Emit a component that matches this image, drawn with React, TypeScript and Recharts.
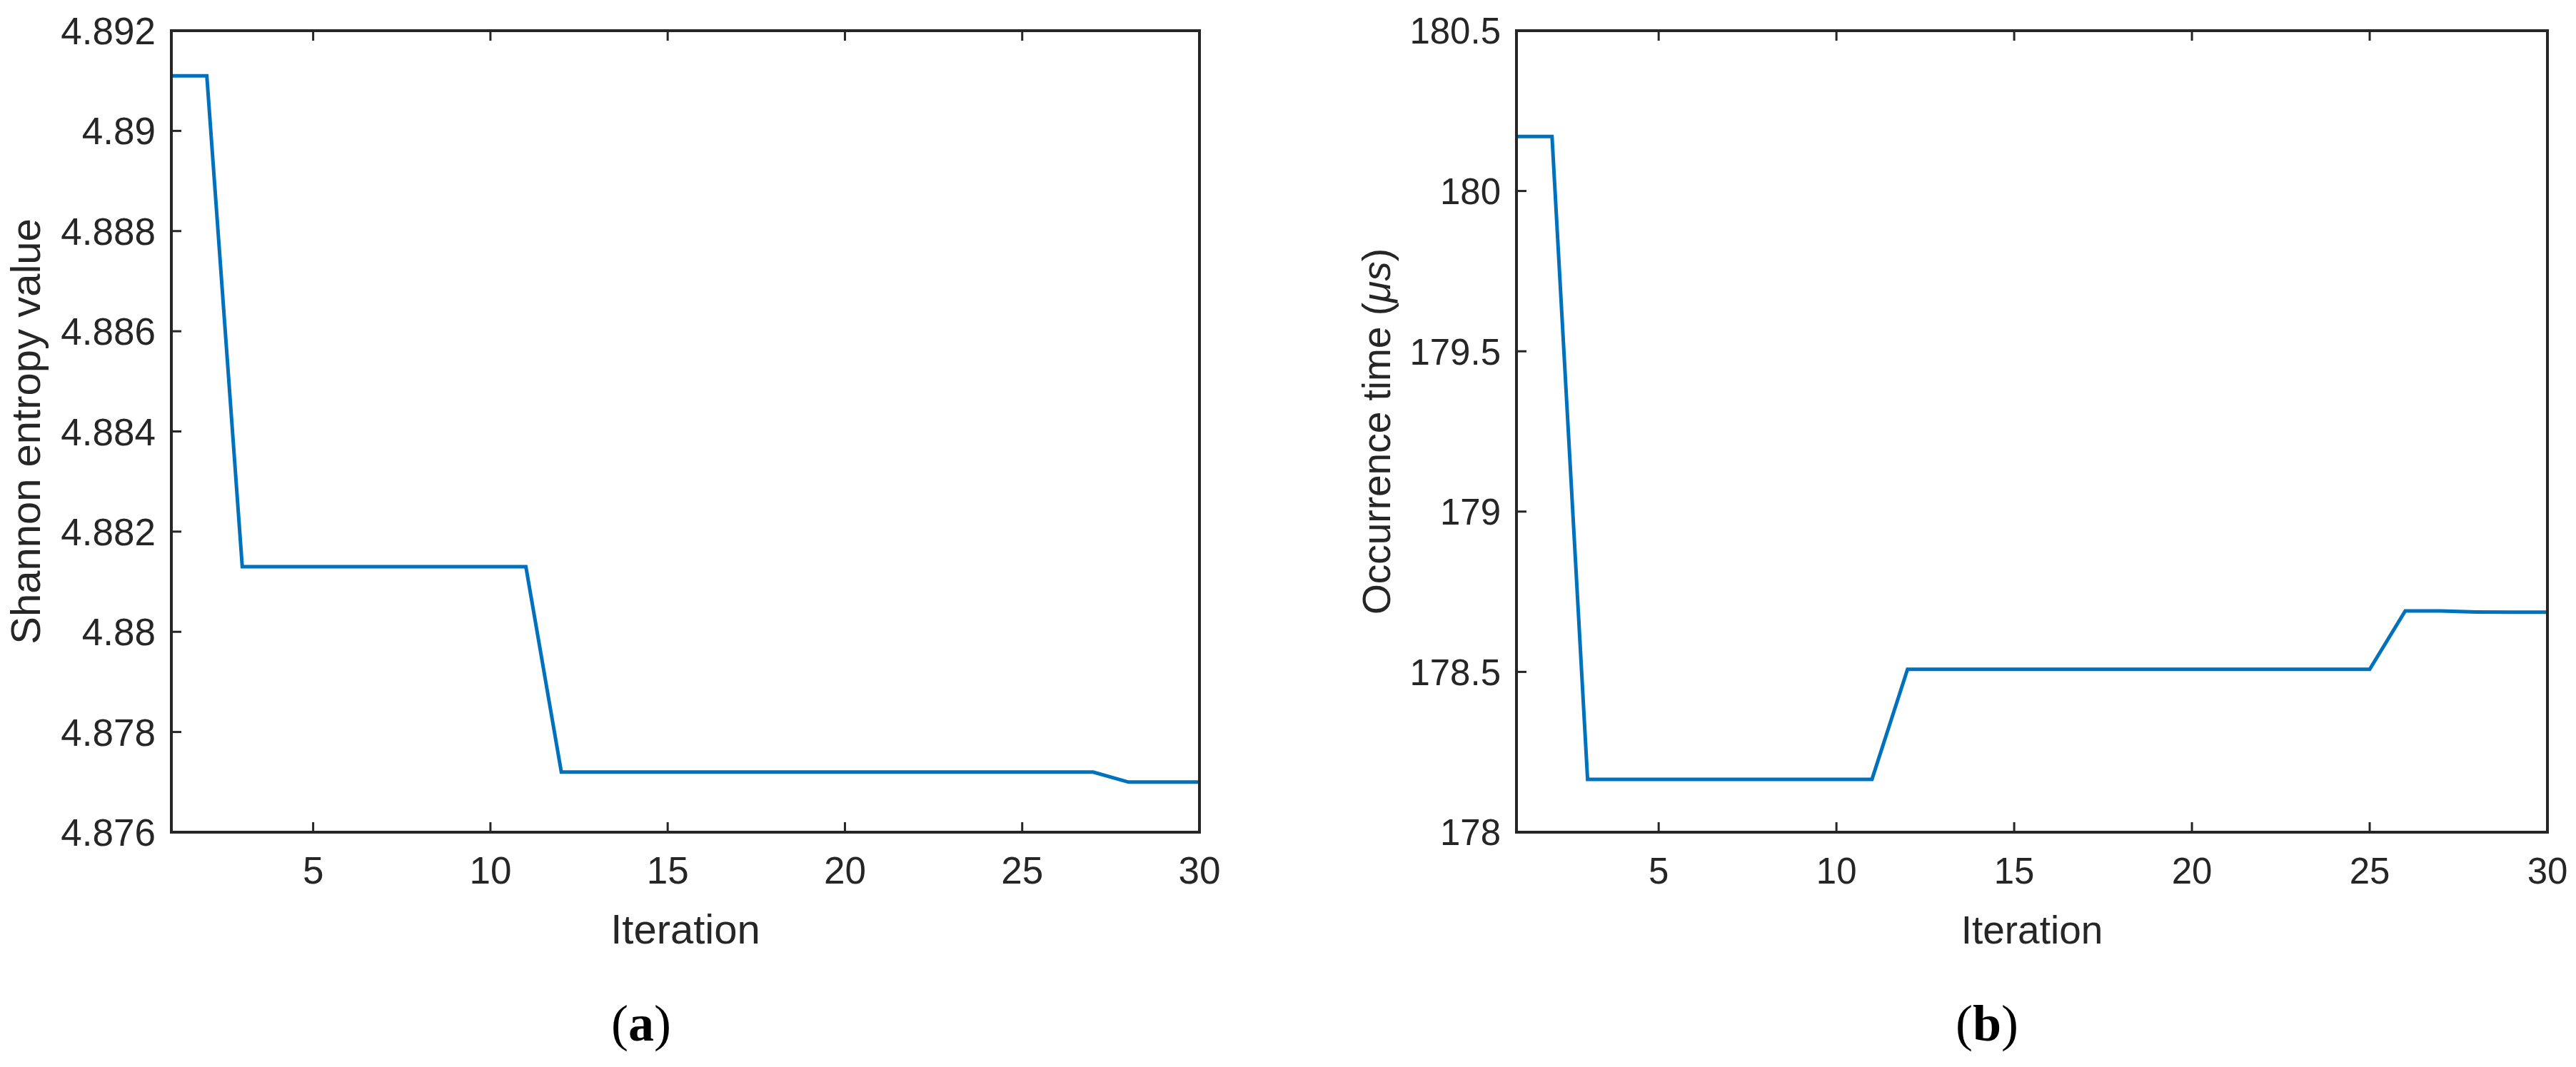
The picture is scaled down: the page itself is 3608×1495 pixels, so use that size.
import React from "react";
import { LineChart, Line, XAxis, YAxis } from "recharts";

/* ── Data ───────────────────────────────────────────── */

const iterations = [
  1, 2, 3, 4, 5, 6, 7, 8, 9, 10, 11, 12, 13, 14, 15,
  16, 17, 18, 19, 20, 21, 22, 23, 24, 25, 26, 27, 28, 29, 30,
];

// (a) Shannon entropy value per iteration
const shannonEntropy = [
  4.8911, 4.8911,
  4.8813, 4.8813, 4.8813, 4.8813, 4.8813, 4.8813, 4.8813, 4.8813, 4.8813,
  4.8772, 4.8772, 4.8772, 4.8772, 4.8772, 4.8772, 4.8772, 4.8772,
  4.8772, 4.8772, 4.8772, 4.8772, 4.8772, 4.8772, 4.8772, 4.8772,
  4.8770, 4.8770, 4.8770,
];

// (b) occurrence time (µs) per iteration
const occurrenceTime = [
  180.17, 180.17,
  178.165, 178.165, 178.165, 178.165, 178.165, 178.165, 178.165, 178.165, 178.165,
  178.508, 178.508, 178.508, 178.508, 178.508, 178.508, 178.508,
  178.508, 178.508, 178.508, 178.508, 178.508, 178.508, 178.508,
  178.69, 178.69, 178.687, 178.686, 178.686,
];

const iterationTicks = [5, 10, 15, 20, 25, 30];
const shannonTicks = [4.876, 4.878, 4.88, 4.882, 4.884, 4.886, 4.888, 4.89, 4.892];
const occurrenceTicks = [178, 178.5, 179, 179.5, 180, 180.5];

/* ── Style ──────────────────────────────────────────── */

const INK = "#262626";
const LINE = "#0072BD";
const FONT = "'Liberation Sans', Arial, Helvetica, sans-serif";
const TICK_LEN = 14;
const X_TICK_GAP = 72; // axis -> tick label baseline
const Y_TICK_GAP = 22; // axis -> tick label right edge

const fmt = (v: number) => String(Number(v.toFixed(3)));

/* ── Ticks (MATLAB style: inward ticks, box on) ─────── */

function BottomTick(props: any) {
  const { x, y, payload, fs } = props;
  const axisY = y - X_TICK_GAP;
  return (
    <g>
      <line x1={x} y1={axisY} x2={x} y2={axisY - TICK_LEN} stroke={INK} strokeWidth={3} />
      <text x={x} y={y} textAnchor="middle" fill={INK} fontSize={fs} fontFamily={FONT}>
        {fmt(payload.value)}
      </text>
    </g>
  );
}

function TopTick(props: any) {
  const { x, y } = props;
  return <line x1={x} y1={y} x2={x} y2={y + TICK_LEN} stroke={INK} strokeWidth={3} />;
}

function LeftTick(props: any) {
  const { x, y, payload, fs } = props;
  const axisX = x + Y_TICK_GAP;
  return (
    <g>
      <line x1={axisX} y1={y} x2={axisX + TICK_LEN} y2={y} stroke={INK} strokeWidth={3} />
      <text x={x} y={y} dy="0.36em" textAnchor="end" fill={INK} fontSize={fs} fontFamily={FONT}>
        {fmt(payload.value)}
      </text>
    </g>
  );
}

function RightTick(props: any) {
  const { x, y } = props;
  return <line x1={x} y1={y} x2={x - TICK_LEN} y2={y} stroke={INK} strokeWidth={3} />;
}

/* ── Axis titles ────────────────────────────────────── */

function YTitle({ viewBox, caption, fs }: any) {
  const cx = viewBox.x;
  const cy = viewBox.y + viewBox.height / 2;
  return (
    <text
      x={cx}
      y={cy}
      dy="0.36em"
      transform={`rotate(-90 ${cx} ${cy})`}
      textAnchor="middle"
      fill={INK}
      fontSize={fs}
      fontFamily={FONT}
    >
      {caption}
    </text>
  );
}

function XTitle({ viewBox, caption, fs }: any) {
  return (
    <text
      x={viewBox.x + viewBox.width / 2}
      y={viewBox.y + 156}
      textAnchor="middle"
      fill={INK}
      fontSize={fs}
      fontFamily={FONT}
    >
      {caption}
    </text>
  );
}

/* ── Panel ──────────────────────────────────────────── */

interface PanelProps {
  values: number[];
  yDomain: [number, number];
  yTicks: number[];
  yTitle: React.ReactNode;
  left: number;
  width: number;
  marginLeft: number;
  marginRight: number;
  yAxisWidth: number;
  tickFont: number;
  titleFont: number;
}

const axisLineStyle = { stroke: INK, strokeWidth: 4, strokeLinecap: "square" as const };

function Panel({
  values, yDomain, yTicks, yTitle, left, width,
  marginLeft, marginRight, yAxisWidth, tickFont, titleFont,
}: PanelProps) {
  const data = iterations.map((it, i) => ({ iter: it, value: values[i] }));
  return (
    <div style={{ position: "absolute", left, top: 0 }}>
      <LineChart
        width={width}
        height={1495}
        data={data}
        margin={{ top: 42, right: marginRight - 1, bottom: 0, left: marginLeft }}
      >
        <XAxis
          dataKey="iter"
          type="number"
          domain={[1, 30]}
          ticks={iterationTicks}
          height={329}
          axisLine={axisLineStyle}
          tickLine={false}
          tickSize={0}
          tickMargin={X_TICK_GAP}
          tick={<BottomTick fs={tickFont} />}
          interval={0}
          label={<XTitle caption="Iteration" fs={titleFont} />}
        />
        {/* box: top edge with inward ticks */}
        <XAxis
          xAxisId="top"
          orientation="top"
          dataKey="iter"
          type="number"
          domain={[1, 30]}
          ticks={iterationTicks}
          height={1}
          axisLine={axisLineStyle}
          tickLine={false}
          tickSize={0}
          tickMargin={0}
          tick={<TopTick />}
          interval={0}
        />
        <YAxis
          type="number"
          domain={yDomain}
          ticks={yTicks}
          width={yAxisWidth}
          axisLine={axisLineStyle}
          tickLine={false}
          tickSize={0}
          tickMargin={Y_TICK_GAP}
          tick={<LeftTick fs={tickFont} />}
          interval={0}
          label={<YTitle caption={yTitle} fs={titleFont} />}
        />
        {/* box: right edge with inward ticks */}
        <YAxis
          yAxisId="right"
          orientation="right"
          type="number"
          domain={yDomain}
          ticks={yTicks}
          width={1}
          axisLine={axisLineStyle}
          tickLine={false}
          tickSize={0}
          tickMargin={0}
          tick={<RightTick />}
          interval={0}
        />
        <Line
          dataKey="value"
          type="linear"
          stroke={LINE}
          strokeWidth={5}
          dot={false}
          activeDot={false}
          isAnimationActive={false}
        />
      </LineChart>
    </div>
  );
}

/* ── Sub-figure caption ─────────────────────────────── */

function Caption({ center, letter }: { center: number; letter: string }) {
  return (
    <div
      style={{
        position: "absolute",
        left: center - 100,
        top: 1398,
        width: 200,
        textAlign: "center",
        fontFamily: "'Liberation Serif', 'Times New Roman', serif",
        fontSize: 72,
        lineHeight: "72px",
        color: "#000",
      }}
    >
      (<b>{letter}</b>)
    </div>
  );
}

export default function App() {
  return (
    <div
      style={{
        position: "absolute",
        left: 0,
        top: 0,
        width: 3608,
        height: 1495,
        background: "#fff",
        overflow: "hidden",
      }}
    >
      <Panel
        values={shannonEntropy}
        yDomain={[4.876, 4.892]}
        yTicks={shannonTicks}
        yTitle="Shannon entropy value"
        left={0}
        width={1800}
        marginLeft={35}
        marginRight={120}
        yAxisWidth={205}
        tickFont={53}
        titleFont={58}
      />
      <Panel
        values={occurrenceTime}
        yDomain={[178, 180.5]}
        yTicks={occurrenceTicks}
        yTitle={
          <>
            Occurrence time (<tspan fontStyle="italic">μs</tspan>)
          </>
        }
        left={1800}
        width={1808}
        marginLeft={127}
        marginRight={40}
        yAxisWidth={197}
        tickFont={51}
        titleFont={55}
      />
      <Caption center={898} letter="a" />
      <Caption center={2783} letter="b" />
    </div>
  );
}
